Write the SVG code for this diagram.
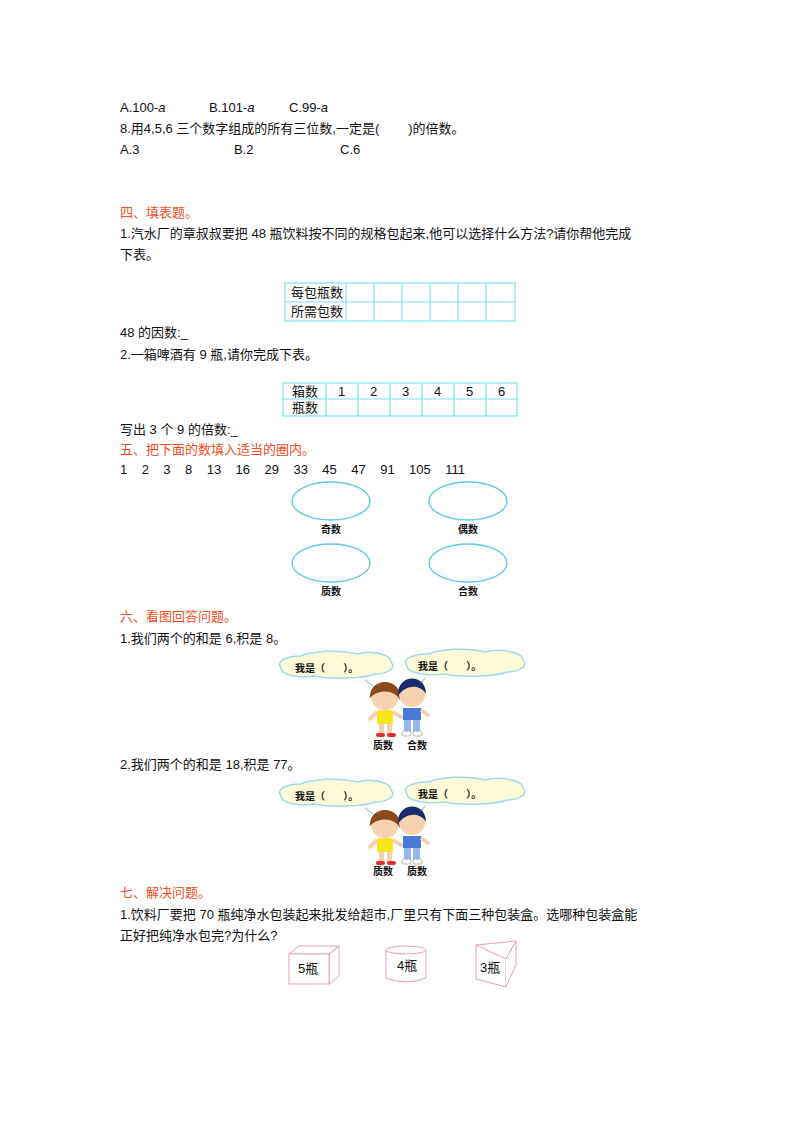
<svg xmlns="http://www.w3.org/2000/svg" width="800" height="1132" viewBox="0 0 800 1132">
<style>
text{font-family:"Liberation Sans","Noto Sans CJK SC",sans-serif;font-size:13px;fill:#111;white-space:pre}
.h{fill:#f04e23}
.s{font-family:"Noto Sans CJK SC",serif;font-size:10px;font-weight:bold}
.t{fill:none;stroke:#7fe0f0;stroke-width:1.2}
.e{fill:#fff;stroke:#5fc8e8;stroke-width:1.3}
.c{fill:#fffbd8;stroke:#9fd8f0;stroke-width:1.5}
.b{fill:#fff;stroke:#e8a0b8;stroke-width:1}
</style>
<rect width="800" height="1132" fill="#fff"/>
<text x="120" y="112">A.100-<tspan font-style="italic">a</tspan></text>
<text x="209" y="112">B.101-<tspan font-style="italic">a</tspan></text>
<text x="289" y="112">C.99-<tspan font-style="italic">a</tspan></text>
<text x="120" y="133" xml:space="preserve">8.用4,5,6 三个数字组成的所有三位数,一定是(        )的倍数。</text>
<text x="120" y="154">A.3</text><text x="234" y="154">B.2</text><text x="340" y="154">C.6</text>
<text class="h" x="120" y="217">四、填表题。</text>
<text x="120" y="238">1.汽水厂的章叔叔要把 48 瓶饮料按不同的规格包起来,他可以选择什么方法?请你帮他完成</text>
<text x="120" y="259">下表。</text>
<g id="table1">
<rect class="t" x="285" y="283" width="230" height="38"/>
<path class="t" d="M285 302H515M346 283V321M374 283V321M402 283V321M430 283V321M458 283V321M486 283V321"/>
<text x="291" y="297" font-size="12">每包瓶数</text><text x="291" y="316" font-size="12">所需包数</text>
</g>
<text x="120" y="337">48 的因数:_</text>
<text x="120" y="359">2.一箱啤酒有 9 瓶,请你完成下表。</text>
<g id="table2">
<rect class="t" x="283" y="383" width="234" height="33"/>
<path class="t" d="M283 399H517M326 383V416M358 383V416M390 383V416M422 383V416M454 383V416M486 383V416"/>
<text x="292" y="396" font-size="12">箱数</text><text x="292" y="412" font-size="12">瓶数</text>
<g font-size="12"><text x="338" y="396">1</text><text x="370" y="396">2</text><text x="402" y="396">3</text><text x="434" y="396">4</text><text x="466" y="396">5</text><text x="498" y="396">6</text></g>
</g>
<text x="120" y="434">写出 3 个 9 的倍数:_</text>
<text class="h" x="120" y="454">五、把下面的数填入适当的圈内。</text>
<text x="120" y="474" xml:space="preserve">1    2    3    8    13    16    29    33    45    47    91    105    111</text>
<g id="ellipses">
<ellipse class="e" cx="331" cy="501" rx="39" ry="19"/><ellipse class="e" cx="468" cy="501" rx="39" ry="19"/>
<ellipse class="e" cx="331" cy="563" rx="39" ry="19"/><ellipse class="e" cx="468" cy="563" rx="39" ry="19"/>
<text class="s" x="331" y="533" text-anchor="middle">奇数</text><text class="s" x="468" y="533" text-anchor="middle">偶数</text>
<text class="s" x="331" y="595" text-anchor="middle">质数</text><text class="s" x="468" y="595" text-anchor="middle">合数</text>
</g>
<text class="h" x="120" y="621">六、看图回答问题。</text>
<text x="120" y="643">1.我们两个的和是 6,积是 8。</text>
<defs>
<g id="kids">
<path class="c" d="M-104 2c-6-8 8-12 20-12 14-6 40-6 56-2 14-4 34 0 34 8 6 6-4 12-16 12-10 4-40 6-60 2-14 2-34 0-34-8z"/>
<path d="M-20 14l16 12" class="c"/>
<path class="c" d="M22 0c-6-8 8-12 22-12 14-6 40-6 56-2 14-4 38 0 38 8 6 6-4 12-16 12-10 4-42 6-62 2-14 2-38 0-38-8z"/>
<path d="M40 12l-12 14" class="c"/>
<text class="s" x="-90" y="6" font-size="11" xml:space="preserve">我是（        ）。</text>
<text class="s" x="33" y="4" font-size="11" xml:space="preserve">我是（        ）。</text>
<rect x="-8" y="44" width="16" height="14" rx="2" fill="#f8e61c"/>
<path d="M-8 46l-8 8M8 46l10 6" stroke="#f7d2b0" stroke-width="4"/>
<rect x="-6" y="58" width="5" height="10" fill="#f7d2b0"/><rect x="2" y="58" width="5" height="10" fill="#f7d2b0"/>
<rect x="-9" y="67" width="9" height="4" rx="2" fill="#e03030"/><rect x="2" y="67" width="9" height="4" rx="2" fill="#e03030"/>
<circle cx="0" cy="30" r="14" fill="#f7d2b0"/><path d="M-15 34c-3-24 33-24 30 0c-4-10-22-12-30-2z" fill="#8a4b1c"/>
<rect x="18" y="42" width="18" height="12" fill="#4a7ad8"/><path d="M36 44l8 6" stroke="#f7d2b0" stroke-width="4"/>
<rect x="19" y="54" width="7" height="12" fill="#9ab8f0"/><rect x="28" y="54" width="7" height="12" fill="#9ab8f0"/>
<rect x="17" y="65" width="9" height="5" rx="2" fill="#fff" stroke="#888" stroke-width=".6"/><rect x="28" y="65" width="9" height="5" rx="2" fill="#fff" stroke="#888" stroke-width=".6"/>
<circle cx="27" cy="28" r="13" fill="#f7d2b0"/><path d="M13 30c-2-22 28-24 28-2c-6-10-20-10-28 2z" fill="#1a2a6a"/>
</g>
</defs>
<g id="pic1"><use href="#kids" x="385" y="666"/>
<text class="s" x="383" y="749" text-anchor="middle" font-size="11">质数</text><text class="s" x="417" y="749" text-anchor="middle" font-size="11">合数</text></g>
<text x="120" y="769">2.我们两个的和是 18,积是 77。</text>
<g id="pic2"><use href="#kids" x="385" y="794"/>
<text class="s" x="383" y="875" text-anchor="middle" font-size="11">质数</text><text class="s" x="417" y="875" text-anchor="middle" font-size="11">质数</text></g>
<text class="h" x="120" y="897">七、解决问题。</text>
<text x="120" y="919">1.饮料厂要把 70 瓶纯净水包装起来批发给超市,厂里只有下面三种包装盒。选哪种包装盒能</text>
<text x="120" y="940">正好把纯净水包完?为什么?</text>
<g id="box1"><path class="b" d="M289 954l10-8h40l-10 8zM329 954l10-8v30l-10 8z"/><rect class="b" x="289" y="954" width="40" height="30"/><text x="298" y="973" font-size="10">5瓶</text></g>
<g id="box2"><path class="b" d="M386 950v28q20 8 40 0v-28"/><ellipse class="b" cx="406" cy="950" rx="20" ry="4"/><text x="397" y="970" font-size="10">4瓶</text></g>
<g id="box3"><path class="b" d="M476 945l40 -4l-10 18l0 28l-30-8z"/><path class="b" d="M476 945l30 14M506 959l10-18v24l-10 22"/><text x="480" y="972" font-size="10">3瓶</text></g>
</svg>
